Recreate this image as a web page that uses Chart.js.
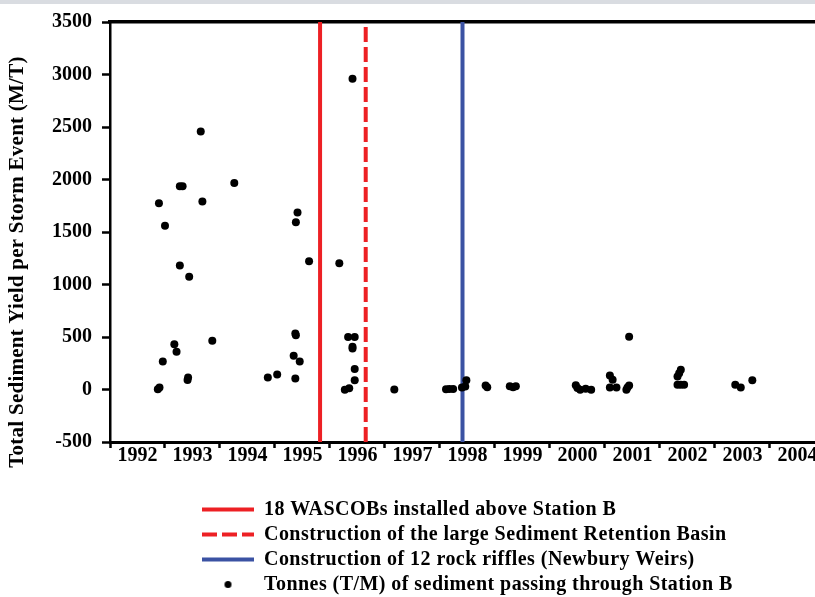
<!DOCTYPE html>
<html>
<head>
<meta charset="utf-8">
<script src="https://cdn.jsdelivr.net/npm/chart.js@4.4.0/dist/chart.umd.min.js"></script>
<style>
html, body { margin: 0; padding: 0; background: #ffffff; overflow: hidden; }
#wrap { position: relative; width: 815px; height: 597px; }
#strip { position: absolute; left: 0; top: 0; width: 815px; height: 4px; background: #d9dce1; }
#c { position: absolute; left: 0; top: 0; }
</style>
</head>
<body>
<div id="wrap"><canvas id="c" width="815" height="597"></canvas><div id="strip"></div></div>
<script>
// ---- data ----
const yearLabels = ['1992','1993','1994','1995','1996','1997','1998','1999','2000','2001','2002','2003','2004'];
const yAxisTitle = 'Total Sediment Yield per Storm Event (M/T)';

const eventNames = [
  '18 WASCOBs installed above Station B',
  'Construction of the large Sediment Retention Basin',
  'Construction of 12 rock riffles (Newbury Weirs)'
];
const eventYears = [1995.82, 1996.65, 1998.41];

const sedimentLabel = 'Tonnes (T/M) of sediment passing through Station B';
const sedimentYears = [
  1992.87, 1992.90, 1992.96, 1992.89, 1993.00, 1993.17, 1993.21, 1993.27, 1993.44, 1993.41,
  1993.42, 1993.27, 1993.32, 1993.65, 1993.68, 1993.86, 1994.26,
  1994.87, 1995.04, 1995.34, 1995.45, 1995.37, 1995.37, 1995.38, 1995.38, 1995.41, 1995.62,
  1996.17, 1996.33, 1996.45, 1996.41, 1996.41, 1996.45, 1996.45, 1996.35, 1996.27, 1996.41,
  1997.17,
  1998.11, 1998.17, 1998.24, 1998.40, 1998.46, 1998.48, 1998.83, 1998.86,
  1999.27, 1999.33, 1999.38,
  2000.47, 2000.50, 2000.55, 2000.65, 2000.75,
  2001.09, 2001.14, 2001.09, 2001.21, 2001.41, 2001.39, 2001.44, 2001.44,
  2002.38, 2002.35, 2002.32, 2002.32, 2002.44, 2002.38,
  2003.37, 2003.47, 2003.68
];
const sedimentYield = [
  3, 18, 266, 1774, 1559, 430, 360, 1180, 1075, 90,
  115, 1935, 1935, 2457, 1790, 465, 1967,
  114, 142, 322, 266, 104, 534, 516, 1594, 1686, 1221,
  1202, 500, 500, 408, 390, 196, 88, 12, -3, 2960,
  0,
  3, 5, 5, 19, 28, 88, 38, 22,
  30, 22, 32,
  40, 15, -3, 7, -3,
  133, 92, 19, 19, 19, -3, 38, 503,
  187, 155, 123, 45, 45, 45,
  45, 19, 88
];

const yMin = -500, yMax = 3500, yStep = 500;
const xMin = 1992, xMax = 2004.82;

// ---- styling ----
const FONT = "'Liberation Serif', 'Times New Roman', serif";
Chart.defaults.font.family = FONT;
Chart.defaults.font.weight = 'bold';
Chart.defaults.font.size = 20;
Chart.defaults.color = '#000';

const eventColors = ['#ed2024', '#ed2024', '#3b52a3'];
const eventDash = [[], [15, 5], []];

const dotCanvas = document.createElement('canvas');
dotCanvas.width = 9; dotCanvas.height = 9;
(function () {
  const c = dotCanvas.getContext('2d');
  c.fillStyle = '#000';
  c.beginPath(); c.arc(4.5, 4.5, 3.5, 0, Math.PI * 2); c.fill();
})();

const layoutTweak = {
  id: 'layoutTweak',
  afterLayout(chart) {
    const lg = chart.legend;
    if (!lg) return;
    lg.left = 197; lg.top += 7.5; lg.bottom += 7.5;
    if (!lg._spacedDraw) {
      const orig = lg.draw;
      lg.draw = function () {
        const ctx = this.ctx;
        ctx.save();
        ctx.letterSpacing = '0.45px';
        orig.apply(this, arguments);
        ctx.restore();
      };
      lg._spacedDraw = true;
    }
  }
};

const yTitlePlugin = {
  id: 'yTitlePlugin',
  afterDraw(chart) {
    const ctx = chart.ctx;
    ctx.save();
    ctx.translate(18, 262);
    ctx.rotate(-Math.PI / 2);
    ctx.font = "bold 21px " + FONT;
    ctx.letterSpacing = '0.25px';
    ctx.fillStyle = '#000';
    ctx.textAlign = 'center';
    ctx.textBaseline = 'middle';
    ctx.fillText(yAxisTitle, 0, 0);
    ctx.restore();
  }
};

const datasets = eventNames.map((name, i) => ({
  type: 'line',
  label: name,
  data: [{ x: eventYears[i], y: yMin }, { x: eventYears[i], y: yMax }],
  borderColor: eventColors[i],
  backgroundColor: eventColors[i],
  borderWidth: 4,
  borderDash: eventDash[i],
  pointRadius: 0,
  fill: false,
  order: 1
}));
datasets.push({
  type: 'scatter',
  label: sedimentLabel,
  data: sedimentYears.map((x, i) => ({ x: x, y: sedimentYield[i] })),
  pointRadius: 4,
  pointBackgroundColor: '#000',
  backgroundColor: '#000',
  borderWidth: 0,
  pointBorderWidth: 0,
  order: 0
});

new Chart(document.getElementById('c'), {
  type: 'scatter',
  data: { datasets: datasets },
  options: {
    responsive: false,
    animation: false,
    devicePixelRatio: 1,
    layout: { padding: { top: 20, left: 0, right: 0, bottom: 0 }, autoPadding: false },
    scales: {
      x: {
        type: 'linear', position: 'bottom', min: xMin, max: xMax,
        afterFit(s) { s.height = 45; s.paddingLeft = 0; s.paddingRight = 0; },
        border: { display: true, color: '#000', width: 3 },
        grid: {
          drawOnChartArea: false, drawTicks: true, tickLength: 6, tickWidth: 2.5,
          tickColor: (ctx) => (ctx.tick && Number.isInteger(ctx.tick.value)) ? '#000' : 'rgba(0,0,0,0)'
        },
        ticks: {
          stepSize: 0.5, includeBounds: false, autoSkip: false, maxRotation: 0, minRotation: 0,
          padding: -2, color: '#000',
          font: { size: 20, weight: 'bold', lineHeight: 1 },
          callback: (v) => {
            const i = v - xMin - 0.5;
            return (Number.isInteger(i) && yearLabels[i]) ? yearLabels[i] : '';
          }
        }
      },
      xTop: {
        type: 'linear', axis: 'x', position: 'top', min: xMin, max: xMax,
        afterFit(s) { s.height = 0; s.paddingLeft = 0; s.paddingRight = 0; },
        border: { display: true, color: '#000', width: 3.5 },
        grid: { display: true, drawOnChartArea: false, drawTicks: false },
        ticks: { display: false }
      },
      y: {
        type: 'linear', position: 'left', min: yMin, max: yMax,
        afterFit(s) { s.width = 110; },
        border: { display: true, color: '#000', width: 2.5 },
        grid: { drawOnChartArea: false, drawTicks: true, tickLength: 8, tickWidth: 2.5, tickColor: '#000' },
        ticks: {
          stepSize: yStep, padding: 10, color: '#000',
          font: { size: 20, weight: 'bold' },
          callback: (v) => String(v)
        }
      }
    },
    plugins: {
      tooltip: { enabled: false },
      title: { display: false },
      legend: {
        display: true, position: 'bottom', align: 'start',
        labels: {
          usePointStyle: true, pointStyleWidth: 52, padding: 5, color: '#000',
          font: { size: 20, weight: 'bold' },
          sort: (a, b) => a.datasetIndex - b.datasetIndex,
          generateLabels(chart) {
            const items = Chart.defaults.plugins.legend.labels.generateLabels(chart);
            items.forEach((it) => {
              const ds = chart.data.datasets[it.datasetIndex];
              if (ds.type === 'line') {
                it.pointStyle = 'line';
                it.lineWidth = ds.borderWidth;
                it.lineDash = ds.borderDash;
                it.strokeStyle = ds.borderColor;
              } else {
                it.pointStyle = dotCanvas;
              }
            });
            return items;
          }
        }
      }
    }
  },
  plugins: [layoutTweak, yTitlePlugin]
});
</script>
</body>
</html>
